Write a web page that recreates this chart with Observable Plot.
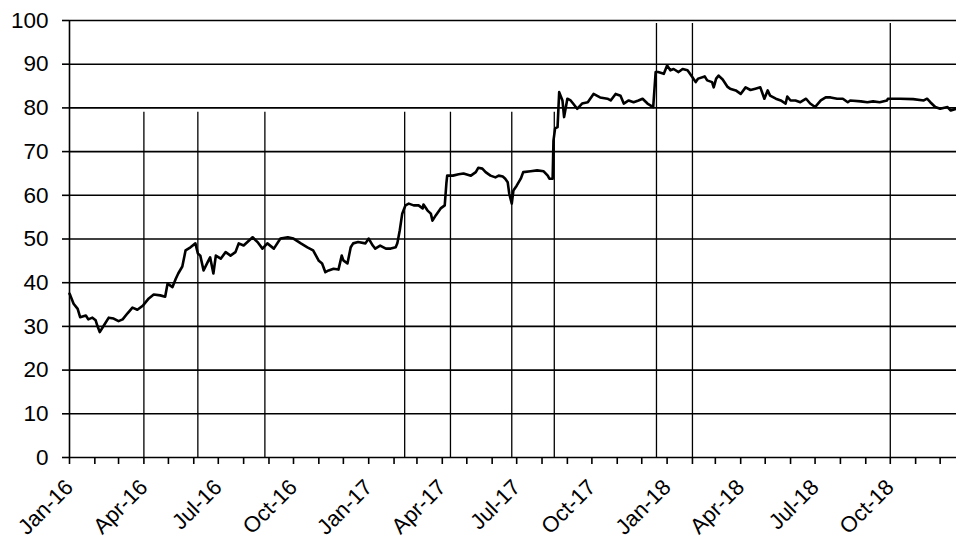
<!DOCTYPE html>
<html><head><meta charset="utf-8">
<script src="https://cdn.jsdelivr.net/npm/d3@7"></script>
<script src="https://cdn.jsdelivr.net/npm/@observablehq/plot@0.6"></script>
<style>
html,body{margin:0;padding:0;background:#fff}
#chart svg{display:block}
</style>
</head><body><div id="chart"></div>
<script>
const startDate = "2016-01-01";
const endDate = "2018-12-21";

// days since 2016-01-01
const dayOffsets = [
0,1,5,10,13,20,23,28,32,34,
37,42,48,54,60,65,71,77,83,90,
97,103,111,117,120,126,130,133,138,142,
148,154,157,160,164,169,172,176,179,185,
191,197,203,207,213,224,230,236,242,250,
258,267,274,283,291,298,305,309,313,317,
323,329,333,335,340,344,347,353,362,366,
371,374,380,387,393,399,401,404,407,411,
415,421,427,432,433,438,442,444,448,454,
459,461,462,469,476,482,491,497,500,505,
509,515,521,525,530,533,536,538,541,543,
547,552,555,564,572,580,585,587,591,592,
594,597,599,603,605,609,613,616,621,627,
634,641,649,658,662,668,674,678,684,690,
696,701,707,713,714,717,720,727,731,735,
739,745,750,756,762,766,769,777,780,786,
788,791,794,799,805,808,815,821,827,833,
839,845,850,854,857,864,870,876,878,882,
888,894,901,906,912,919,925,931,939,946,
952,955,968,976,983,991,1000,1001,1016,1032,
1045,1049,1053,1059,1065,1074,1078,1085
];
const values = [
37.5,37.1,35.2,34,32.1,32.5,31.6,32,31.4,30.2,
28.7,30.2,32,31.8,31.2,31.6,33,34.3,33.8,34.8,
36.4,37.3,37.1,36.8,39.8,39,40.9,42.1,43.7,47.4,
48.1,49,46.7,46.2,42.8,44.7,45.8,42.1,46.2,45.5,
47,46.2,47,49,48.5,50.4,49.3,47.8,49,47.8,
50.1,50.4,50.1,49,48.1,47.4,45,44.4,42.4,42.8,
43.2,43,46.2,45.1,44.4,48.1,49,49.3,49,50.1,
48.5,47.8,48.5,47.8,47.8,48.1,49,52,55.8,57.7,
58.1,57.7,57.7,57,57.9,56.5,55.8,54.2,55.4,57,
57.7,62.7,64.5,64.5,64.8,65,64.5,65.3,66.3,66.1,
65.3,64.5,64.1,64.5,64.3,63.8,63,60.3,58.1,61.1,
62.2,63.8,65.3,65.5,65.7,65.5,64.5,63.8,63.8,72.5,
75.3,75.6,83.6,81.7,77.9,82.1,81.7,81,79.8,81,
81.3,83.2,82.4,82.1,81.7,83.2,82.8,81,81.7,81.3,
81.7,82.1,81,80.3,80.2,88.2,88.2,87.8,89.7,88.6,
88.9,88.2,88.9,88.6,87,85.9,86.7,87.2,86.3,85.9,
84.7,86.7,87.4,86.5,84.8,84.4,84,83.2,84.7,84.1,
84.4,84.7,82.1,84,82.8,82.1,81.7,81,82.6,81.7,
81.7,81.3,82.1,81,80.2,81.7,82.4,82.4,82.1,82.1,
81.3,81.7,81.5,81.3,81.5,81.3,81.7,82.1,82.1,82,
81.7,82.1,81.3,80.2,79.8,80.2,79.4,79.8
];

const eventDates = ["2016-04-01","2016-06-06","2016-08-27","2017-02-14","2017-04-11","2017-06-25","2017-08-16","2017-12-19","2018-02-01","2018-10-01"];
const eventTops = [79,79,79,79,79,79,79,99.3,99.3,99.3];

const yTicks = [0,10,20,30,40,50,60,70,80,90,100];
const tickLabelDates = ["2016-01-01","2016-04-01","2016-07-01","2016-10-01","2017-01-01","2017-04-01","2017-07-01","2017-10-01","2018-01-01","2018-04-01","2018-07-01","2018-10-01"];

const start = new Date(startDate);
const end = new Date(endDate);
const series = dayOffsets.map((d, i) => ({date: d3.utcDay.offset(start, d), value: values[i]}));
const events = eventDates.map((d, i) => ({date: new Date(d), top: eventTops[i]}));
const monthTicks = d3.utcMonth.range(start, end);
const labelTicks = tickLabelDates.map(d => new Date(d));

const chart = Plot.plot({
  width: 956,
  height: 541,
  marginLeft: 69,
  marginRight: 0,
  marginTop: 20,
  marginBottom: 84,
  style: {fontFamily: "'Liberation Sans', Arial, sans-serif", background: "#fff", color: "#000", overflow: "visible"},
  x: {type: "utc", domain: [start, end]},
  y: {domain: [0, 100]},
  marks: [
    Plot.ruleY(yTicks, {stroke: "#000", strokeWidth: 1.6}),
    Plot.ruleX([start], {y1: 0, y2: 100, stroke: "#000", strokeWidth: 1.6}),
    Plot.ruleX(events, {x: "date", y1: 0, y2: "top", stroke: "#000", strokeWidth: 1.3}),
    Plot.axisY({ticks: yTicks, tickSize: 7, tickPadding: 14, fontSize: 22.5, strokeWidth: 1.6, label: null}),
    Plot.axisX({ticks: monthTicks, tickSize: 7, tickFormat: () => "", strokeWidth: 1.6, label: null}),
    Plot.axisX({ticks: labelTicks, tickSize: 0, tickPadding: 26, tickRotate: -45, textAnchor: "end", lineAnchor: "middle", fontSize: 22, tickFormat: d3.utcFormat("%b-%y"), label: null}),
    Plot.line(series, {x: "date", y: "value", stroke: "#000", strokeWidth: 2.6, strokeLinejoin: "round"})
  ]
});
document.getElementById("chart").append(chart);
</script>
</body></html>
